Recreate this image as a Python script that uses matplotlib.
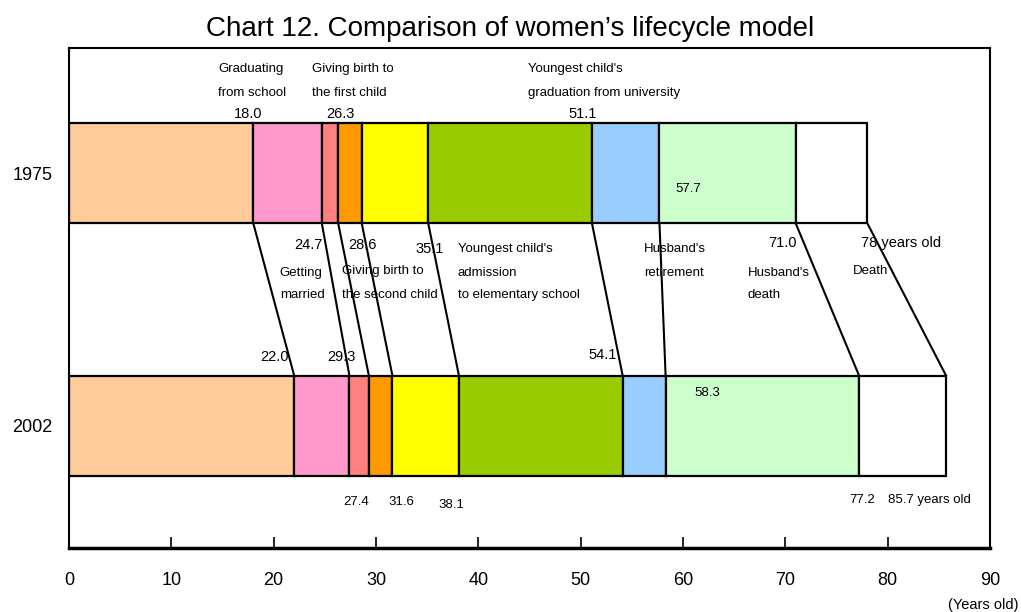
import matplotlib.pyplot as plt
import numpy as np

plt.rcParams['font.family'] = ['Liberation Sans', 'DejaVu Sans']

years = ['1975', '2002']
# age at the end of each life stage
ages_1975 = [18.0, 24.7, 26.3, 28.6, 35.1, 51.1, 57.7, 71.0, 78.0]
ages_2002 = [22.0, 27.4, 29.3, 31.6, 38.1, 54.1, 58.3, 77.2, 85.7]
stage_colors = ['#FFCC99', '#FF99CC', '#FF8080', '#FF9900', '#FFFF00',
                '#99CC00', '#99CCFF', '#CCFFCC', '#FFFFFF']
x_ticks = np.arange(0, 91, 10)

fig = plt.figure(figsize=(10.21, 6.12), dpi=100)
ax = fig.add_axes([69/1021, 64/612, 921/1021, 500/612])
ax.set_xlim(0, 90)
ax.set_ylim(0, 100)

y_pos = {'1975': 75.0, '2002': 24.5}
bar_h = 20

for yr, ages in zip(years, [ages_1975, ages_2002]):
    starts = [0] + ages[:-1]
    widths = np.array(ages) - np.array(starts)
    ax.barh(y_pos[yr], widths, left=starts, height=bar_h, color=stage_colors,
            edgecolor='black', linewidth=1.6, zorder=2)

# connecting lines between the two bars
for a, b in zip(ages_1975, ages_2002):
    ax.plot([a, b], [y_pos['1975'] - bar_h/2, y_pos['2002'] + bar_h/2],
            color='black', lw=1.5, zorder=1)

def lab(x, y, s, size=10, ha='center'):
    ax.text(x, y, s, fontsize=size, ha=ha, va='center', zorder=3)

# stage descriptions
d = 9.5
lab(14.56, 95.8, 'Graduating', d, 'left')
lab(14.56, 91.0, 'from school', d, 'left')
lab(23.75, 95.8, 'Giving birth to', d, 'left')
lab(23.75, 91.0, 'the first child', d, 'left')
lab(44.85, 95.8, "Youngest child's", d, 'left')
lab(44.85, 91.0, 'graduation from university', d, 'left')

lab(20.6, 55.0, 'Getting', d, 'left')
lab(20.6, 50.6, 'married', d, 'left')
lab(26.7, 55.4, 'Giving birth to', d, 'left')
lab(26.7, 50.6, 'the second child', d, 'left')
lab(38.0, 59.8, "Youngest child's", d, 'left')
lab(38.0, 55.0, 'admission', d, 'left')
lab(38.0, 50.6, 'to elementary school', d, 'left')
lab(56.2, 59.8, "Husband's", d, 'left')
lab(56.2, 55.0, 'retirement', d, 'left')
lab(66.35, 55.0, "Husband's", d, 'left')
lab(66.35, 50.6, 'death', d, 'left')
lab(76.6, 55.4, 'Death', d, 'left')

# age values 1975
lab(17.5, 86.8, f'{ages_1975[0]:.1f}', 10.5)
lab(26.5, 86.8, f'{ages_1975[2]:.1f}', 10.5)
lab(50.2, 86.8, f'{ages_1975[5]:.1f}', 10.5)
lab(59.3, 71.8, f'{ages_1975[6]:.1f}', 9.5, 'left')
lab(23.36, 60.6, f'{ages_1975[1]:.1f}', 10.5)
lab(28.7, 60.6, f'{ages_1975[3]:.1f}', 10.5)
lab(35.2, 59.8, f'{ages_1975[4]:.1f}', 10.5)
lab(69.7, 61.0, f'{ages_1975[7]:.1f}', 10.5)
lab(77.4, 61.0, f'{ages_1975[8]:.0f} years old', 10.5, 'left')

# age values 2002
lab(20.1, 38.2, f'{ages_2002[0]:.1f}', 10.5)
lab(26.6, 38.2, f'{ages_2002[2]:.1f}', 10.5)
lab(52.1, 38.6, f'{ages_2002[5]:.1f}', 10.5)
lab(61.1, 31.0, f'{ages_2002[6]:.1f}', 9.5, 'left')
lab(28.1, 9.2, f'{ages_2002[1]:.1f}', 9.5)
lab(32.5, 9.2, f'{ages_2002[3]:.1f}', 9.5)
lab(37.4, 8.6, f'{ages_2002[4]:.1f}', 9.5)
lab(77.5, 9.6, f'{ages_2002[7]:.1f}', 9.5)
lab(80.0, 9.6, f'{ages_2002[8]:.1f} years old', 9.5, 'left')

ax.set_xticks(x_ticks)
ax.set_xticklabels([str(t) for t in x_ticks], fontsize=13)
ax.tick_params(axis='x', direction='in', length=8, width=1.2, pad=17)
ax.set_yticks([y_pos['1975'], y_pos['2002']])
ax.set_yticklabels(years, fontsize=13)
ax.tick_params(axis='y', length=0, pad=12)

for side in ['left', 'right', 'top']:
    ax.spines[side].set_linewidth(1.5)
ax.spines['bottom'].set_linewidth(2.5)

fig.text(0.5, 1 - 36/612, 'Chart 12. Comparison of women’s lifecycle model',
         fontsize=20, ha='center', va='baseline')
fig.text(1018/1021, 1 - 605/612, '(Years old)', fontsize=10.5, ha='right',
         va='center')

fig.savefig('out.png', dpi=100)
